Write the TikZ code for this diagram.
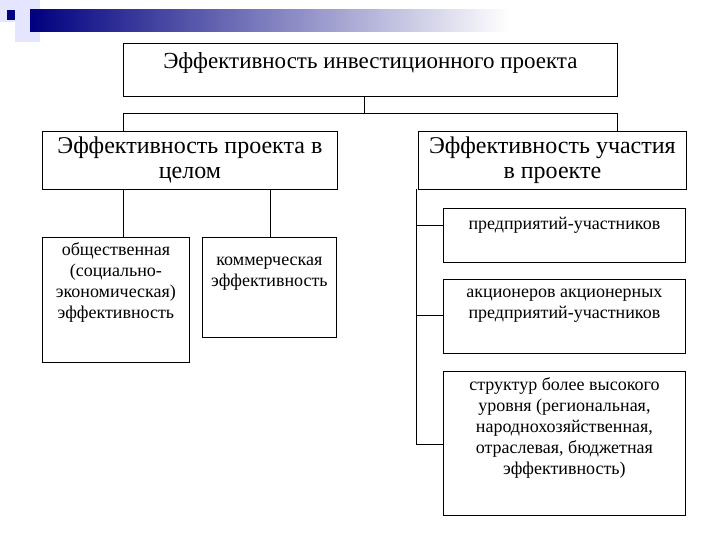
\documentclass[tikz,border=0pt]{standalone}
\usepackage{fontspec}
\setmainfont{Liberation Serif}
\begin{document}
\begin{tikzpicture}[x=1pt,y=-1pt,
  bx/.style={draw,line width=0.8pt,anchor=north west,inner sep=0pt},
  tx/.style={anchor=north,align=center,inner sep=0pt},
  sm/.style={font=\fontsize{18}{21}\selectfont},
  ln/.style={line width=0.8pt}]
\useasboundingbox (0,0) rectangle (720,540);
% decoration
\fill[blue!10!white] (15,0) rectangle (40,42);
\fill[blue!10!white] (0,0) rectangle (15,22);
\shade[left color=blue!50!black, right color=white] (30,10) rectangle (510,32);
\fill[blue!50!black] (7,10) rectangle (15,20);
% boxes
\node[bx,minimum width=494,minimum height=53] (top) at (123,43) {};
\node[tx,font=\fontsize{23}{27}\selectfont] at ([yshift=-9]top.north) {Эффективность инвестиционного проекта};
\node[bx,minimum width=295,minimum height=58] (ml) at (42,131) {};
\node[tx,font=\fontsize{24}{25}\selectfont] at ([yshift=-6]ml.north) {Эффективность проекта в\\целом};
\node[bx,minimum width=268,minimum height=58] (mr) at (418,131) {};
\node[tx,font=\fontsize{24}{25}\selectfont] at ([yshift=-6]mr.north) {Эффективность участия\\в проекте};
\node[bx,minimum width=147,minimum height=125] (a) at (42,237) {};
\node[tx,sm] at ([yshift=-5]a.north) {общественная\\(социально-\\экономическая)\\эффективность};
\node[bx,minimum width=134,minimum height=100] (b) at (202,237) {};
\node[tx,sm] at ([yshift=-20]b.north) {коммерческая\\эффективность};
\node[bx,minimum width=242,minimum height=54] (c1) at (443,208) {};
\node[tx,sm] at ([yshift=-9]c1.north) {предприятий-участников};
\node[bx,minimum width=242,minimum height=74] (c2) at (443,279) {};
\node[tx,sm] at ([yshift=-10]c2.north) {акционеров акционерных\\предприятий-участников};
\node[bx,minimum width=242,minimum height=144] (c3) at (443,371) {};
\node[tx,sm] at ([yshift=-6]c3.north) {структур более высокого\\уровня (региональная,\\народнохозяйственная,\\отраслевая, бюджетная\\эффективность)};
% connectors
\coordinate (j) at (364,113);
\draw[ln] (top.south -| j) -- (j);
\draw[ln] (123,113) -- (617,113);
\draw[ln] (123,113) -- (123,131);
\draw[ln] (617,113) -- (617,131);
\draw[ln] (123,189) -- (123,237);
\draw[ln] (270,189) -- (270,237);
\coordinate (v) at (416,444);
\draw[ln] (416,189) -- (v);
\draw[ln] (416,225) -- (c1.west |- 0,225);
\draw[ln] (416,315) -- (c2.west |- 0,315);
\draw[ln] (v) -- (c3.west |- v);
\end{tikzpicture}
\end{document}
